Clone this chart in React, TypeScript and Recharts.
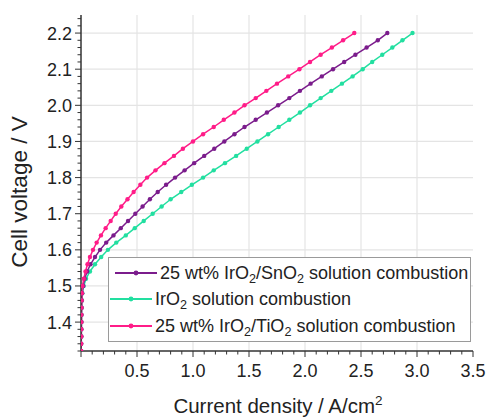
import React from "react";
import { LineChart, Line, XAxis, YAxis, CartesianGrid } from "recharts";

// cell voltage steps (V), shared by the three polarization curves
const voltage = [
  1.32, 1.34, 1.36, 1.38, 1.4, 1.42, 1.44, 1.46, 1.48, 1.5, 1.52, 1.54, 1.56, 1.58, 1.6,
  1.62, 1.64, 1.66, 1.68, 1.7, 1.72, 1.74, 1.76, 1.78, 1.8, 1.82, 1.84, 1.86, 1.88, 1.9,
  1.92, 1.94, 1.96, 1.98, 2.0, 2.02, 2.04, 2.06, 2.08, 2.1, 2.12, 2.14, 2.16, 2.18, 2.2,
];

// current density (A/cm2) at each voltage step
const currentSnO2 = [
  0.002, 0.002, 0.003, 0.003, 0.004, 0.004, 0.005, 0.007, 0.01, 0.02, 0.032, 0.055, 0.085, 0.125, 0.17,
  0.225, 0.29, 0.355, 0.42, 0.485, 0.55, 0.615, 0.685, 0.76, 0.84, 0.925, 1.01, 1.1, 1.19, 1.28,
  1.37, 1.46, 1.56, 1.66, 1.76, 1.86, 1.955, 2.05, 2.15, 2.25, 2.35, 2.45, 2.55, 2.65, 2.735,
];
const currentIrO2 = [
  0.002, 0.002, 0.003, 0.003, 0.004, 0.005, 0.006, 0.008, 0.012, 0.024, 0.045, 0.08, 0.125, 0.18, 0.24,
  0.315, 0.4, 0.48, 0.56, 0.64, 0.72, 0.8, 0.895, 0.99, 1.09, 1.185, 1.285, 1.385, 1.48, 1.575,
  1.67, 1.765, 1.86, 1.955, 2.045, 2.14, 2.235, 2.33, 2.425, 2.515, 2.6, 2.69, 2.78, 2.87, 2.96,
];
const currentTiO2 = [
  0.002, 0.002, 0.003, 0.003, 0.004, 0.004, 0.005, 0.006, 0.008, 0.013, 0.025, 0.04, 0.058, 0.08, 0.107,
  0.14, 0.178, 0.22, 0.265, 0.31, 0.36, 0.415, 0.47, 0.53, 0.59, 0.665, 0.745, 0.83, 0.91, 1.0,
  1.09, 1.185, 1.275, 1.37, 1.46, 1.56, 1.655, 1.75, 1.85, 1.95, 2.045, 2.14, 2.24, 2.34, 2.44,
];

const xMajor = [0.5, 1.0, 1.5, 2.0, 2.5, 3.0];
const yMajor = [1.4, 1.5, 1.6, 1.7, 1.8, 1.9, 2.0, 2.1, 2.2];

const FONT = "'Liberation Sans', Arial, sans-serif";
const PURPLE = "#7b1c8c";
const GREEN = "#22dfa0";
const PINK = "#ff1c88";

const toRows = (cur: number[]) => voltage.map((v, k) => ({ i: cur[k], v }));

// minor ticks every 0.1 A/cm2 and every 0.02 V
const xTickVals = Array.from({ length: 36 }, (_, k) => k / 10);
const yTickVals = Array.from({ length: 47 }, (_, k) => Math.round((1.32 + k * 0.02) * 100) / 100).filter(
  (t) => t <= 2.25
);

const isMajor = (v: number, step: number) => Math.abs(v / step - Math.round(v / step)) < 1e-6;

function XTick(props: any) {
  const { x, y, payload } = props;
  const v = payload.value;
  const major = isMajor(v, 0.5);
  return (
    <g>
      <line x1={x} x2={x} y1={y} y2={y + (major ? 6 : 3.5)} stroke="#333" strokeWidth={1} />
      {major && v > 0 && (
        <text x={x} y={y + 26} textAnchor="middle" fontSize={18} fontFamily={FONT} fill="#222">
          {v.toFixed(1)}
        </text>
      )}
    </g>
  );
}

function YTick(props: any) {
  const { x, y, payload } = props;
  const v = payload.value;
  const major = isMajor(v, 0.1);
  return (
    <g>
      <line x1={x - (major ? 6 : 3.5)} x2={x} y1={y} y2={y} stroke="#333" strokeWidth={1} />
      {major && (
        <text x={x - 9} y={y + 6.5} textAnchor="end" fontSize={18} fontFamily={FONT} fill="#222">
          {v.toFixed(1)}
        </text>
      )}
    </g>
  );
}

function XTitle(props: any) {
  const { viewBox } = props;
  const cx = viewBox.x + viewBox.width / 2 + 1;
  return (
    <text x={cx} y={viewBox.y + 62} textAnchor="middle" fontSize={20.5} fontFamily={FONT} fill="#222">
      Current density / A/cm
      <tspan dy={-8} fontSize={13.5}>2</tspan>
    </text>
  );
}

function YTitle() {
  return (
    <text
      x={0}
      y={0}
      transform="translate(27, 192) rotate(-90)"
      textAnchor="middle"
      fontSize={22.5}
      fontFamily={FONT}
      fill="#222"
    >
      Cell voltage / V
    </text>
  );
}

const Sub = ({ children }: { children: React.ReactNode }) => (
  <span style={{ fontSize: "70%", verticalAlign: "-0.3em", lineHeight: 0 }}>{children}</span>
);

function LegendRow({ top, color, lineLeft, children }: any) {
  return (
    <div style={{ position: "absolute", left: 0, top: top - 11, height: 22, display: "flex", alignItems: "center" }}>
      <svg width={lineLeft + 44} height={22} style={{ display: "block" }}>
        <line x1={lineLeft} x2={lineLeft + 42} y1={11} y2={11} stroke={color} strokeWidth={2} />
        <circle cx={lineLeft + 21} cy={11} r={2.4} fill={color} />
      </svg>
      <span style={{ fontFamily: FONT, fontSize: 18, color: "#222", whiteSpace: "nowrap", marginLeft: 1 }}>
        {children}
      </span>
    </div>
  );
}

export default function App() {
  return (
    <div style={{ position: "absolute", left: 0, top: 0, width: 487, height: 417, background: "#fff" }}>
      <LineChart width={487} height={417} margin={{ top: 15, right: 14, bottom: 0, left: 0 }}>
        <CartesianGrid horizontalValues={yMajor} verticalValues={xMajor} stroke="#e4e4e4" strokeWidth={1.2} />
        <XAxis
          dataKey="i"
          type="number"
          domain={[0, 3.5]}
          ticks={xTickVals}
          interval={0}
          tick={<XTick />}
          tickLine={false}
          tickSize={0}
          tickMargin={0}
          height={66}
          allowDataOverflow
          axisLine={{ stroke: "#333", strokeWidth: 1.5 }}
          label={<XTitle />}
        />
        <XAxis
          xAxisId="top"
          orientation="top"
          type="number"
          domain={[0, 3.5]}
          height={0}
          tick={false}
          tickLine={false}
          axisLine={{ stroke: "#666", strokeWidth: 2 }}
        />
        <YAxis
          dataKey="v"
          type="number"
          domain={[1.32, 2.25]}
          ticks={yTickVals}
          interval={0}
          tick={<YTick />}
          tickLine={false}
          tickSize={0}
          tickMargin={0}
          width={81}
          allowDataOverflow
          axisLine={{ stroke: "#333", strokeWidth: 1.5 }}
          label={<YTitle />}
        />
        <YAxis
          yAxisId="right"
          orientation="right"
          type="number"
          domain={[1.32, 2.25]}
          width={0}
          tick={false}
          tickLine={false}
          axisLine={{ stroke: "#666", strokeWidth: 2 }}
        />
        <Line
          data={toRows(currentIrO2)}
          dataKey="v"
          stroke={GREEN}
          strokeWidth={1.5}
          dot={{ r: 2.2, fill: GREEN, stroke: GREEN, strokeWidth: 0 }}
          isAnimationActive={false}
        />
        <Line
          data={toRows(currentSnO2)}
          dataKey="v"
          stroke={PURPLE}
          strokeWidth={1.5}
          dot={{ r: 2.2, fill: PURPLE, stroke: PURPLE, strokeWidth: 0 }}
          isAnimationActive={false}
        />
        <Line
          data={toRows(currentTiO2)}
          dataKey="v"
          stroke={PINK}
          strokeWidth={1.5}
          dot={{ r: 2.2, fill: PINK, stroke: PINK, strokeWidth: 0 }}
          isAnimationActive={false}
        />
      </LineChart>
      <div
        style={{
          position: "absolute",
          left: 108,
          top: 257,
          width: 363,
          height: 85,
          boxSizing: "border-box",
          border: "1.5px solid #9a9a9a",
          background: "#fff",
        }}
      >
        <LegendRow top={15} color={PURPLE} lineLeft={6}>
          25 wt% IrO<Sub>2</Sub>/SnO<Sub>2</Sub> solution combustion
        </LegendRow>
        <LegendRow top={41} color={GREEN} lineLeft={1}>
          IrO<Sub>2</Sub> solution combustion
        </LegendRow>
        <LegendRow top={68} color={PINK} lineLeft={1}>
          25 wt% IrO<Sub>2</Sub>/TiO<Sub>2</Sub> solution combustion
        </LegendRow>
      </div>
    </div>
  );
}
